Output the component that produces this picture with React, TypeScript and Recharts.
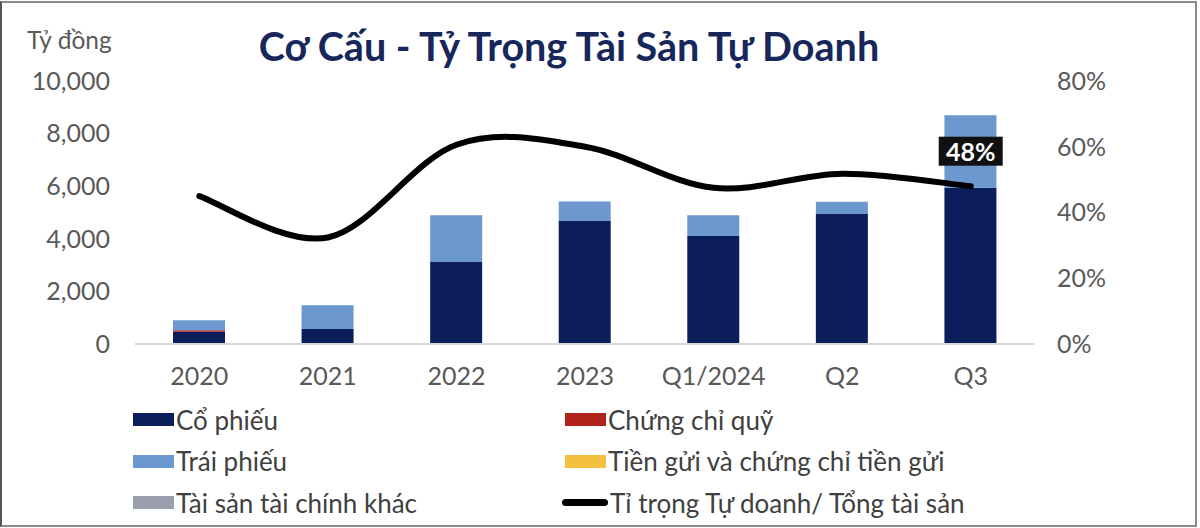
import React from "react";
import {
  ComposedChart,
  Bar,
  Line,
  XAxis,
  YAxis,
  Legend,
  LabelList,
} from "recharts";

const categories = ["2020", "2021", "2022", "2023", "Q1/2024", "Q2", "Q3"];
const coPhieu = [470, 570, 3120, 4700, 4110, 4940, 5940];
const chungChiQuy = [50, 0, 0, 0, 0, 0, 0];
const traiPhieu = [380, 900, 1780, 720, 790, 470, 2760];
const tienGui = [0, 0, 0, 0, 0, 0, 0];
const taiSanKhac = [0, 0, 0, 0, 0, 0, 0];
const tiTrong = [0.45, 0.324, 0.606, 0.6, 0.475, 0.518, 0.48];
const leftTicks = [0, 2000, 4000, 6000, 8000, 10000];
const rightTicks = [0, 0.2, 0.4, 0.6, 0.8];

const seriesNames = {
  coPhieu: "Cổ phiếu",
  chungChiQuy: "Chứng chỉ quỹ",
  traiPhieu: "Trái phiếu",
  tienGui: "Tiền gửi và chứng chỉ tiền gửi",
  taiSanKhac: "Tài sản tài chính khác",
  tiTrong: "Tỉ trọng Tự doanh/ Tổng tài sản",
};

const colors = {
  coPhieu: "#0b1e5b",
  chungChiQuy: "#b0231b",
  traiPhieu: "#6a98cf",
  tienGui: "#f3c040",
  taiSanKhac: "#9b9eac",
  tiTrong: "#000000",
};

const data = categories.map((c, i) => ({
  name: c,
  coPhieu: coPhieu[i],
  chungChiQuy: chungChiQuy[i],
  traiPhieu: traiPhieu[i],
  tienGui: tienGui[i],
  taiSanKhac: taiSanKhac[i],
  tiTrong: tiTrong[i],
}));

// Excel-like smoothed line (Catmull-Rom through the points)
function catmullRom(context: any) {
  let pts: number[][] = [];
  return {
    areaStart() {},
    areaEnd() {},
    lineStart() {
      pts = [];
    },
    point(x: number, y: number) {
      pts.push([+x, +y]);
    },
    lineEnd() {
      if (!pts.length) return;
      context.moveTo(pts[0][0], pts[0][1]);
      if (pts.length === 1) return;
      for (let i = 0; i < pts.length - 1; i++) {
        const p0 = pts[i - 1] || pts[i];
        const p1 = pts[i];
        const p2 = pts[i + 1];
        const p3 = pts[i + 2] || p2;
        context.bezierCurveTo(
          p1[0] + (p2[0] - p0[0]) / 6,
          p1[1] + (p2[1] - p0[1]) / 6,
          p2[0] - (p3[0] - p1[0]) / 6,
          p2[1] - (p3[1] - p1[1]) / 6,
          p2[0],
          p2[1]
        );
      }
    },
  };
}

const FONT = "Lato, 'Open Sans', sans-serif";

const fmtThousands = (v: number) => v.toLocaleString("en-US");
const fmtPct = (v: number) => `${Math.round(v * 100)}%`;

const LastLabel = (props: any) => {
  const { x, y, index, value } = props;
  if (index !== categories.length - 1) return null;
  const w = 64;
  const h = 29;
  const cy = y - 35;
  return (
    <g>
      <rect x={x - w / 2} y={cy - h / 2} width={w} height={h} fill="#111111" />
      <text
        x={x}
        y={cy}
        fill="#ffffff"
        fontSize={25}
        fontWeight={700}
        fontFamily={FONT}
        textAnchor="middle"
        dominantBaseline="central"
      >
        {fmtPct(value)}
      </text>
    </g>
  );
};

const legendOrder: (keyof typeof seriesNames)[] = [
  "coPhieu",
  "chungChiQuy",
  "traiPhieu",
  "tienGui",
  "taiSanKhac",
  "tiTrong",
];

const CustomLegend = () => (
  <div
    style={{
      display: "grid",
      gridTemplateColumns: "432px 430px",
      gridAutoRows: "41.5px",
      fontFamily: FONT,
      fontSize: 26,
      color: "#404040",
      textAlign: "left",
    }}
  >
    {legendOrder.map((k) => (
      <div key={k} style={{ display: "flex", alignItems: "center" }}>
        {k === "tiTrong" ? (
          <div
            style={{
              width: 46,
              height: 7,
              background: colors[k],
              borderRadius: 4,
              marginLeft: -3,
              marginRight: 2,
            }}
          />
        ) : (
          <div
            style={{
              width: 41,
              height: 13,
              background: colors[k],
              marginRight: 2,
            }}
          />
        )}
        <span>{seriesNames[k]}</span>
      </div>
    ))}
  </div>
);

export default function App() {
  return (
    <div
      style={{
        position: "absolute",
        left: 0,
        top: 0,
        width: 1200,
        height: 528,
        background: "#ffffff",
        overflow: "hidden",
      }}
    >
      <div
        style={{
          position: "absolute",
          left: 0,
          top: 1,
          width: 1197,
          height: 526,
          boxSizing: "border-box",
          border: "2px solid #8a8a8a",
          borderLeft: "2px solid #555555",
        }}
      />
      <div
        style={{
          position: "absolute",
          left: 27,
          top: 25,
          fontFamily: FONT,
          fontSize: 24.5,
          color: "#595959",
        }}
      >
        Tỷ đồng
      </div>
      <div
        style={{
          position: "absolute",
          left: 0,
          width: 1138,
          top: 22,
          textAlign: "center",
          fontFamily: FONT,
          fontSize: 39.5,
          fontWeight: 700,
          color: "#17275c",
        }}
      >
        Cơ Cấu - Tỷ Trọng Tài Sản Tự Doanh
      </div>
      <div style={{ position: "absolute", left: 0, top: 0 }}>
        <ComposedChart
          width={1200}
          height={528}
          data={data}
          margin={{ top: 81, right: 0, bottom: 0, left: 0 }}
        >
          <XAxis
            dataKey="name"
            xAxisId="x"
            height={184}
            tickSize={0}
            tickMargin={23}
            axisLine={{ stroke: "#d9d9d9", strokeWidth: 2 }}
            tick={{ fill: "#595959", fontSize: 25, fontFamily: FONT }}
            interval={0}
          />
          <YAxis
            yAxisId="left"
            width={135}
            domain={[0, 10000]}
            ticks={leftTicks}
            tickFormatter={fmtThousands}
            tickSize={0}
            tickMargin={25}
            axisLine={false}
            tick={{ fill: "#595959", fontSize: 25, fontFamily: FONT }}
          />
          <YAxis
            yAxisId="right"
            orientation="right"
            width={165}
            domain={[0, 0.8]}
            ticks={rightTicks}
            tickFormatter={fmtPct}
            tickSize={0}
            tickMargin={22}
            axisLine={false}
            tick={{ fill: "#595959", fontSize: 25, fontFamily: FONT }}
          />
          <Legend
            layout="horizontal"
            verticalAlign="middle"
            align="center"
            content={<CustomLegend />}
            wrapperStyle={{
              position: "absolute",
              left: 133,
              top: 399,
              width: 900,
            }}
          />
          <Bar xAxisId="x" yAxisId="left" dataKey="coPhieu" name={seriesNames.coPhieu} stackId="a" fill={colors.coPhieu} barSize={52} isAnimationActive={false} />
          <Bar xAxisId="x" yAxisId="left" dataKey="chungChiQuy" name={seriesNames.chungChiQuy} stackId="a" fill={colors.chungChiQuy} barSize={52} isAnimationActive={false} />
          <Bar xAxisId="x" yAxisId="left" dataKey="traiPhieu" name={seriesNames.traiPhieu} stackId="a" fill={colors.traiPhieu} barSize={52} isAnimationActive={false} />
          <Bar xAxisId="x" yAxisId="left" dataKey="tienGui" name={seriesNames.tienGui} stackId="a" fill={colors.tienGui} barSize={52} isAnimationActive={false} />
          <Bar xAxisId="x" yAxisId="left" dataKey="taiSanKhac" name={seriesNames.taiSanKhac} stackId="a" fill={colors.taiSanKhac} barSize={52} isAnimationActive={false} />
          <Line
            xAxisId="x"
            yAxisId="right"
            dataKey="tiTrong"
            name={seriesNames.tiTrong}
            type={catmullRom as any}
            stroke={colors.tiTrong}
            strokeWidth={6}
            strokeLinecap="round"
            dot={false}
            activeDot={false}
            isAnimationActive={false}
          >
            <LabelList dataKey="tiTrong" content={<LastLabel />} />
          </Line>
        </ComposedChart>
      </div>
    </div>
  );
}
